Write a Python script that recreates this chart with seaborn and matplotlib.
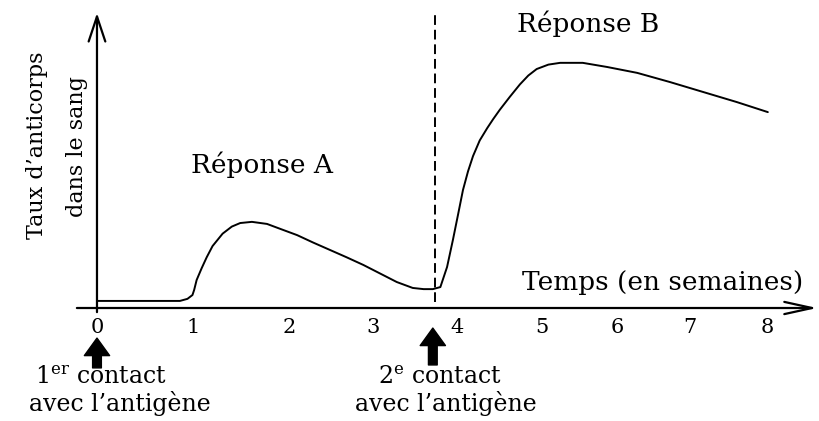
import matplotlib
matplotlib.use("Agg")
import matplotlib.pyplot as plt
import seaborn as sns

# courbe (x en semaines "dessinées", y en unités arbitraires)
temps = [0.00, 0.99, 1.08, 1.14, 1.16, 1.19, 1.25, 1.31, 1.38, 1.50, 1.61,
         1.71, 1.85, 2.03, 2.20, 2.39, 2.58, 2.78, 2.98, 3.18, 3.38, 3.58,
         3.77, 3.90, 4.01, 4.10, 4.18, 4.25, 4.31, 4.37, 4.43, 4.49, 4.57,
         4.66, 4.73, 4.81, 4.93, 5.05, 5.15, 5.25, 5.39, 5.53, 5.80, 6.09,
         6.45, 6.84, 7.24, 7.64, 8.01]
taux = [0.24, 0.24, 0.31, 0.44, 0.61, 0.95, 1.35, 1.72, 2.10, 2.52, 2.76,
        2.88, 2.92, 2.85, 2.67, 2.47, 2.22, 1.97, 1.72, 1.46, 1.17, 0.88,
        0.68, 0.64, 0.64, 0.71, 1.39, 2.31, 3.15, 4.00, 4.63, 5.15, 5.68,
        6.10, 6.40, 6.72, 7.16, 7.58, 7.88, 8.10, 8.25, 8.31, 8.31, 8.17,
        7.97, 7.66, 7.32, 6.98, 6.64]

tick_pos = [0, 1.15, 2.30, 3.30, 4.30, 5.31, 6.21, 7.08, 8.0]
tick_labels = ["0", "1", "2", "3", "4", "5", "6", "7", "8"]

contact_2 = 4.04  # 2e contact (trait pointillé)

sns.set_theme(style="white")
plt.rcParams["font.family"] = ["DejaVu Serif"]
plt.rcParams["mathtext.fontset"] = "dejavuserif"
plt.rcParams["text.color"] = "black"

fig = plt.figure(figsize=(8.19, 4.21), dpi=100)
ax = fig.add_axes([0, 0, 1, 1])
ax.set_xlim(-1.158, 8.621)
ax.set_ylim(-3.83, 10.44)
for s in ax.spines.values():
    s.set_visible(False)
ax.spines["bottom"].set_position(("data", 0))
ax.set_yticks([])
ax.set_xticks(tick_pos, tick_labels)
ax.tick_params(axis="x", length=0, pad=7, labelsize=15, colors="black")

# axes avec flèches
ax.annotate("", xy=(8.6, 0), xytext=(-0.24, 0),
            arrowprops=dict(arrowstyle="->,head_length=1.0,head_width=0.22",
                            lw=1.6, color="black", shrinkA=0, shrinkB=0,
                            mutation_scale=20))
ax.annotate("", xy=(0, 10.0), xytext=(0, -0.14),
            arrowprops=dict(arrowstyle="->,head_length=0.9,head_width=0.3",
                            lw=1.6, color="black", shrinkA=0, shrinkB=0,
                            mutation_scale=20))

# courbe
sns.lineplot(x=temps, y=taux, ax=ax, color="black", linewidth=1.4)

# 2e contact
ax.plot([contact_2, contact_2], [0.2, 9.93], color="black", lw=1.4,
        dashes=(5, 2.5))

# textes
ax.text(1.97, 4.85, "Réponse A", fontsize=19, ha="center", va="center")
ax.text(5.86, 9.63, "Réponse B", fontsize=19, ha="center", va="center")
ax.text(6.75, 0.85, "Temps (en semaines)", fontsize=19, ha="center", va="center")
ax.text(-0.716, 5.53, "Taux d’anticorps", fontsize=16, rotation=90,
        ha="center", va="center")
ax.text(-0.239, 5.46, "dans le sang", fontsize=16, rotation=90,
        ha="center", va="center")

# flèches des contacts
for xc, y0, y1 in [(0.0, -2.03, -1.02), (4.01, -1.93, -0.68)]:
    ax.annotate("", xy=(xc, y1), xytext=(xc, y0),
                arrowprops=dict(arrowstyle="simple,head_width=1.3,head_length=0.9,tail_width=0.45",
                                color="black", shrinkA=0, shrinkB=0,
                                mutation_scale=14))

ax.text(0.05, -2.37, r"1$^{\mathrm{er}}$ contact", fontsize=17, ha="center", va="center")
ax.text(0.27, -3.25, "avec l’antigène", fontsize=17, ha="center", va="center")
ax.text(4.10, -2.37, r"2$^{\mathrm{e}}$ contact", fontsize=17, ha="center", va="center")
ax.text(4.17, -3.25, "avec l’antigène", fontsize=17, ha="center", va="center")

fig.savefig("out.png", dpi=100, facecolor="white")
